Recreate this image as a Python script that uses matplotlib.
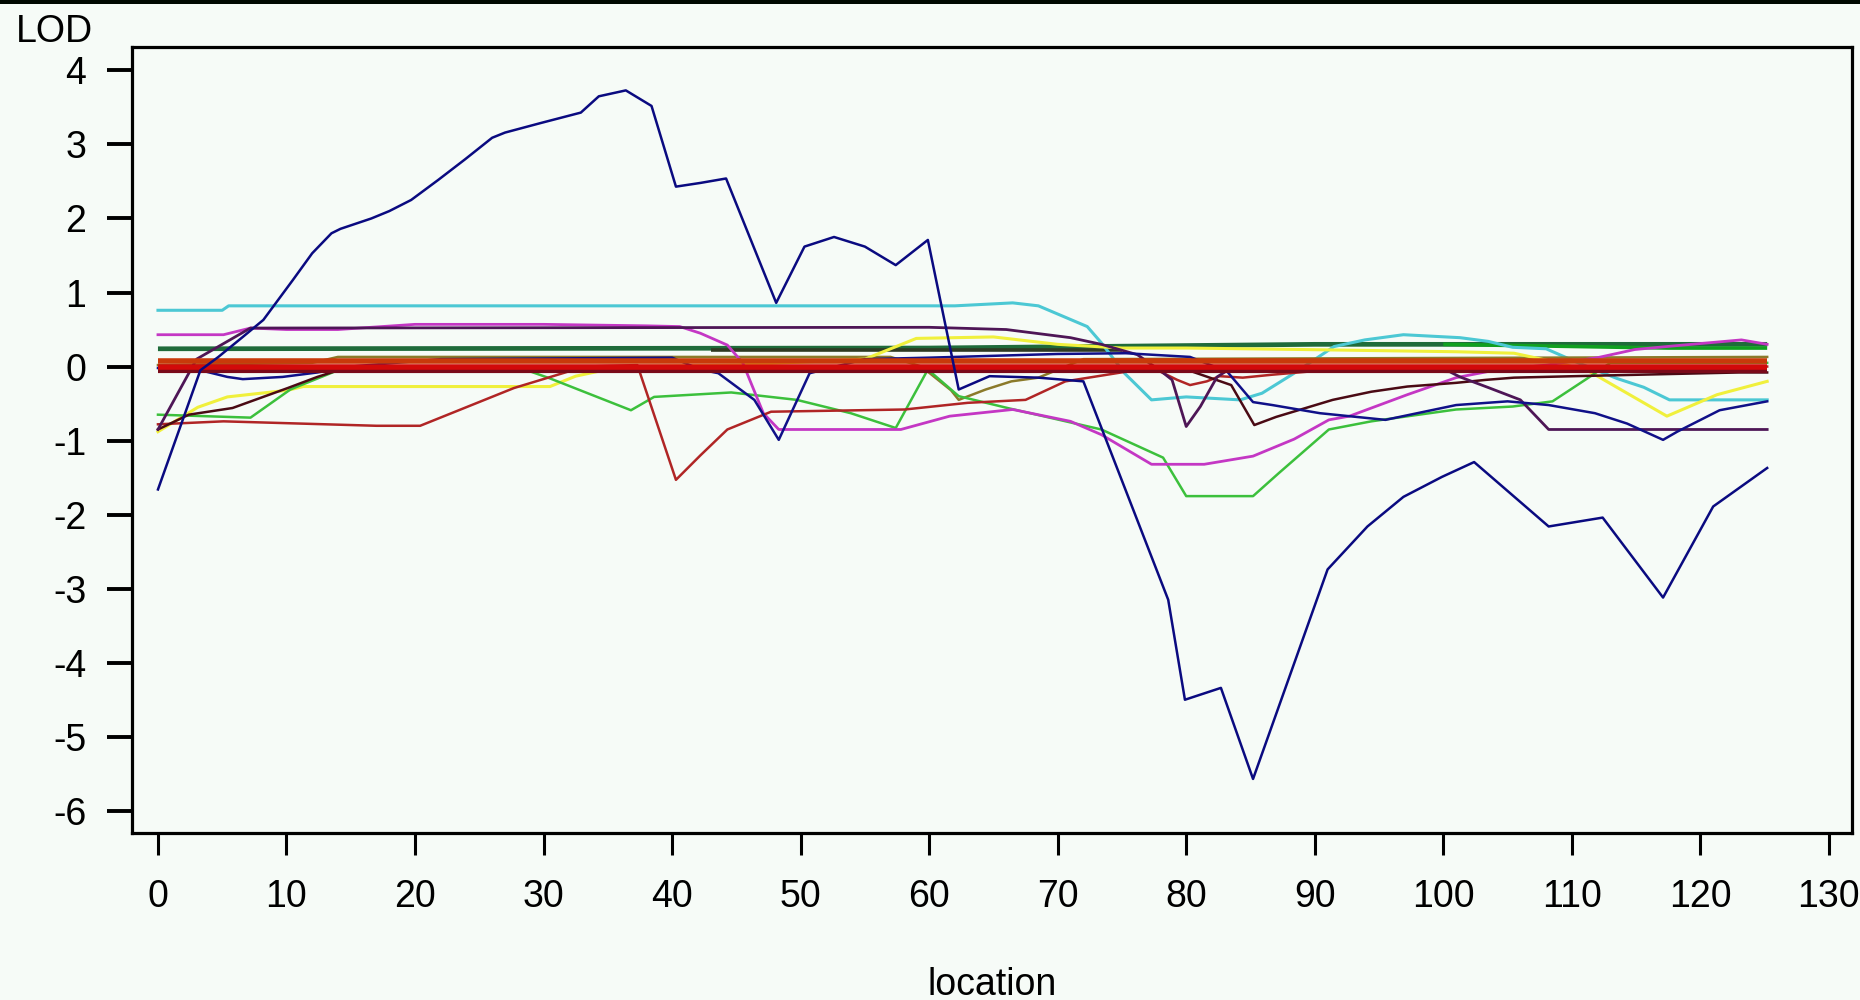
import matplotlib
matplotlib.use("Agg")
import matplotlib.pyplot as plt
from matplotlib.patches import Rectangle

# ---------------- data ----------------
x_axis_ticks = [0, 10, 20, 30, 40, 50, 60, 70, 80, 90, 100, 110, 120, 130]
y_axis_ticks = [4, 3, 2, 1, 0, -1, -2, -3, -4, -5, -6]
x_label = "location"
y_label = "LOD"

# navy (large QTL curve)
loc_navy = [0, 3.3, 4.7, 6.6, 8.2, 10.5, 12, 13.5, 14.2, 16.6, 18, 19.7, 21.8, 23.9, 26, 27, 29.8,
            32.9, 34.3, 36.4, 38.4, 40.3, 42.2, 44.2, 48.1, 50.3, 52.6, 55, 57.4, 59.9, 62.3,
            64.7, 68.5, 72, 78.6, 79.9, 82.7, 85.2, 91.0, 94.1, 96.9, 99.9, 102.4, 108.2,
            112.4, 117.1, 121, 125.2]
lod_navy = [-1.66, -0.05, 0.13, 0.4, 0.63, 1.17, 1.53, 1.8, 1.86, 2.0, 2.1, 2.25, 2.52, 2.8, 3.09,
            3.16, 3.29, 3.43, 3.65, 3.73, 3.52, 2.43, 2.48, 2.54, 0.86, 1.62, 1.75, 1.62, 1.37,
            1.71, -0.31, -0.13, -0.15, -0.2, -3.15, -4.5, -4.34, -5.57, -2.74, -2.16, -1.76,
            -1.49, -1.29, -2.16, -2.04, -3.12, -1.89, -1.37]

# second dark blue
loc_blue2 = [0, 3.3, 5.4, 6.6, 9.7, 12.4, 15, 22, 40, 42.2, 43.6, 46.4, 48.3, 50.7, 55, 60, 70,
             75.3, 80.3, 83.2, 85.2, 86.7, 90.4, 95.5, 101, 105, 108.2, 111.8, 114.3, 117.1,
             118.2, 121.5, 125.2]
lod_blue2 = [-0.02, -0.05, -0.14, -0.17, -0.14, -0.08, 0.0, 0.1, 0.12, -0.04, -0.09, -0.45, -0.99,
             -0.09, 0.1, 0.12, 0.17, 0.18, 0.13, -0.07, -0.48, -0.52, -0.63, -0.72, -0.52, -0.47,
             -0.52, -0.63, -0.77, -0.99, -0.88, -0.59, -0.47]

# cyan
loc_cyan = [0, 5, 5.5, 62, 66.5, 68.5, 72.3, 73.4, 75.2, 77.3, 80, 84.2, 85.9, 88.4, 91.5, 93.9,
            96.9, 101.3, 103.5, 105.4, 108, 110.5, 113.5, 115.6, 117.6, 125.2]
lod_cyan = [0.76, 0.76, 0.82, 0.82, 0.86, 0.82, 0.54, 0.32, -0.09, -0.45, -0.41, -0.45, -0.36,
            -0.09, 0.27, 0.36, 0.43, 0.39, 0.34, 0.26, 0.24, 0.05, -0.16, -0.28, -0.45, -0.45]

# dark purple
loc_purple = [0, 3, 5.8, 7.2, 60, 66, 71, 73.4, 76.2, 78.1, 78.9, 80.0, 81.1, 82.4, 83.5, 100.5,
              101.3, 103.6, 106, 108.2, 125.2]
lod_purple = [-0.85, 0.1, 0.38, 0.52, 0.53, 0.5, 0.39, 0.3, 0.16, -0.07, -0.18, -0.81, -0.54,
              -0.14, -0.02, -0.07, -0.14, -0.29, -0.45, -0.85, -0.85]

# magenta
loc_magenta = [0, 5.1, 7.2, 10, 14, 20, 30, 38, 40.6, 42.2, 44.3, 45.5, 47.1, 48.3, 51.5, 57.8,
               61.6, 66.5, 71, 73.4, 77.3, 81.4, 85.2, 88.4, 91.1, 92.7, 97.2, 101, 104, 108,
               112, 114.9, 118, 123.2, 125.2]
lod_magenta = [0.43, 0.43, 0.52, 0.5, 0.5, 0.57, 0.57, 0.55, 0.54, 0.45, 0.29, 0.05, -0.63, -0.85,
               -0.85, -0.85, -0.67, -0.58, -0.74, -0.92, -1.32, -1.32, -1.21, -0.98, -0.72,
               -0.67, -0.38, -0.15, -0.05, 0.02, 0.12, 0.23, 0.28, 0.36, 0.3]

# light green
loc_green = [0, 7.2, 10.3, 14, 28.7, 30.5, 36.8, 38.6, 44.6, 49.7, 53.9, 57.4, 59.9, 62.3, 66.1,
             73.4, 78.2, 80, 85.2, 87.2, 91.1, 94.4, 101, 105.4, 108.5, 111.3, 113, 125.2]
lod_green = [-0.65, -0.69, -0.31, -0.05, -0.05, -0.16, -0.59, -0.41, -0.35, -0.45, -0.63, -0.83,
             -0.04, -0.4, -0.56, -0.85, -1.23, -1.75, -1.75, -1.44, -0.85, -0.74, -0.58, -0.54,
             -0.47, -0.15, 0.05, 0.05]

# yellow
loc_yellow = [0, 3.1, 5.4, 10.1, 11.3, 30.5, 32.5, 36, 45, 55, 59, 65, 70, 75, 80, 89, 101, 105.5,
              109, 111.4, 117.4, 121.3, 125.2]
lod_yellow = [-0.88, -0.55, -0.41, -0.32, -0.27, -0.27, -0.13, 0.0, 0.02, 0.1, 0.38, 0.4, 0.3,
              0.25, 0.25, 0.23, 0.2, 0.18, 0.05, -0.07, -0.67, -0.38, -0.2]

# very dark maroon
loc_maroon = [0, 2.4, 5.8, 10.1, 12.4, 14.2, 80, 83.5, 85.3, 87, 91.4, 94.4, 97.2, 101, 103.3,
              105.5, 110.2, 123, 125.2]
lod_maroon = [-0.85, -0.65, -0.56, -0.29, -0.14, -0.04, -0.04, -0.25, -0.79, -0.68, -0.45, -0.34,
              -0.27, -0.22, -0.18, -0.15, -0.13, -0.08, -0.08]

# firebrick red
loc_brick = [0, 5.1, 17, 20.4, 27.7, 33.2, 37.3, 40.3, 42.2, 44.3, 47.7, 58.1, 63, 67.5, 70.6,
             75.3, 78, 79.3, 80.3, 81.6, 82.6, 84.4, 86.7, 89.4, 91, 125.2]
lod_brick = [-0.78, -0.74, -0.8, -0.8, -0.29, 0.0, 0.02, -1.53, -1.2, -0.85, -0.61, -0.58, -0.49,
             -0.45, -0.2, -0.07, -0.07, -0.18, -0.25, -0.2, -0.13, -0.15, -0.11, -0.07, 0.0, 0.0]

# olive
loc_olive = [0, 12, 14, 57, 59.4, 61.7, 62.3, 64.4, 66.4, 68.5, 72, 125.2]
lod_olive = [0.02, 0.05, 0.13, 0.13, 0.0, -0.32, -0.45, -0.31, -0.2, -0.15, 0.1, 0.13]

# flat / nearly flat lines forming the bands
loc_darkgreen = [0, 60, 90, 125.2]
lod_darkgreen = [0.24, 0.25, 0.3, 0.3]
loc_darkband = [43, 75]
lod_darkband = [0.22, 0.22]
loc_brightgreen = [100, 117.5, 125.2]
lod_brightgreen = [0.3, 0.25, 0.25]
loc_orange = [0, 125.2]
lod_orange = [0.07, 0.07]
loc_red = [0, 125.2]
lod_red = [0.0, 0.0]
loc_darkred = [0, 125.2]
lod_darkred = [-0.06, -0.06]

# ---------------- figure ----------------
BG = "#F6FBF7"
plt.rcParams['font.family'] = ['Liberation Sans Narrow', 'Liberation Sans', 'DejaVu Sans']

fig = plt.figure(figsize=(18.6, 10), dpi=100, facecolor=BG)
ax = fig.add_axes([132 / 1860, 1 - 833 / 1000, (1852 - 132) / 1860, (833 - 46.7) / 1000])
ax.set_facecolor(BG)

thin = 1.8
thick = 4.0

ax.plot(loc_darkgreen, lod_darkgreen, color="#1F6B3A", lw=3.4, solid_capstyle='butt')
ax.plot(loc_darkband, lod_darkband, color="#2E3A22", lw=2.6, solid_capstyle='butt')
ax.plot(loc_brightgreen, lod_brightgreen, color="#10A020", lw=2.6, solid_capstyle='butt')
ax.plot(loc_cyan, lod_cyan, color="#4CC8D4", lw=2.2)
ax.plot(loc_olive, lod_olive, color="#8B7A2A", lw=thin)
ax.plot(loc_yellow, lod_yellow, color="#F0F03C", lw=2.2)
ax.plot(loc_green, lod_green, color="#3CC03C", lw=thin)
ax.plot(loc_magenta, lod_magenta, color="#C437C4", lw=thin + 0.2)
ax.plot(loc_brick, lod_brick, color="#B02525", lw=thin)
ax.plot(loc_maroon, lod_maroon, color="#4A0A14", lw=thin)
ax.plot(loc_purple, lod_purple, color="#4E1656", lw=thin + 0.2)
ax.plot(loc_blue2, lod_blue2, color="#101088", lw=thin)
ax.plot(loc_orange, lod_orange, color="#C83A0A", lw=thick, solid_capstyle='butt')
ax.plot(loc_darkred, lod_darkred, color="#7A0A1A", lw=3.0, solid_capstyle='butt')
ax.plot(loc_red, lod_red, color="#D20A0A", lw=thick, solid_capstyle='butt')
ax.plot(loc_navy, lod_navy, color="#0A0A80", lw=thin)

ax.set_xlim(-2.02, 131.8)
ax.set_ylim(-6.30, 4.32)
ax.set_xticks(x_axis_ticks)
ax.set_yticks(y_axis_ticks)
ax.set_xticklabels([str(v) for v in x_axis_ticks])
ax.set_yticklabels([str(v) for v in y_axis_ticks])

for s in ax.spines.values():
    s.set_linewidth(2.3)
    s.set_color("black")

ax.tick_params(axis='x', direction='out', length=16, width=2.2, pad=17, labelsize=27, colors='black')
ax.tick_params(axis='y', direction='out', length=18, width=2.8, pad=15, labelsize=27, colors='black')

fig.text(16 / 1860, 1 - 42 / 1000, y_label, fontsize=27, ha='left', va='baseline')
fig.text(992 / 1860, 1 - 995 / 1000, x_label, fontsize=27, ha='center', va='baseline')

fig.add_artist(Rectangle((0, 0.996), 1, 0.004, transform=fig.transFigure,
                         facecolor="#000800", edgecolor='none'))

fig.savefig("out.png", dpi=100, facecolor=BG)
